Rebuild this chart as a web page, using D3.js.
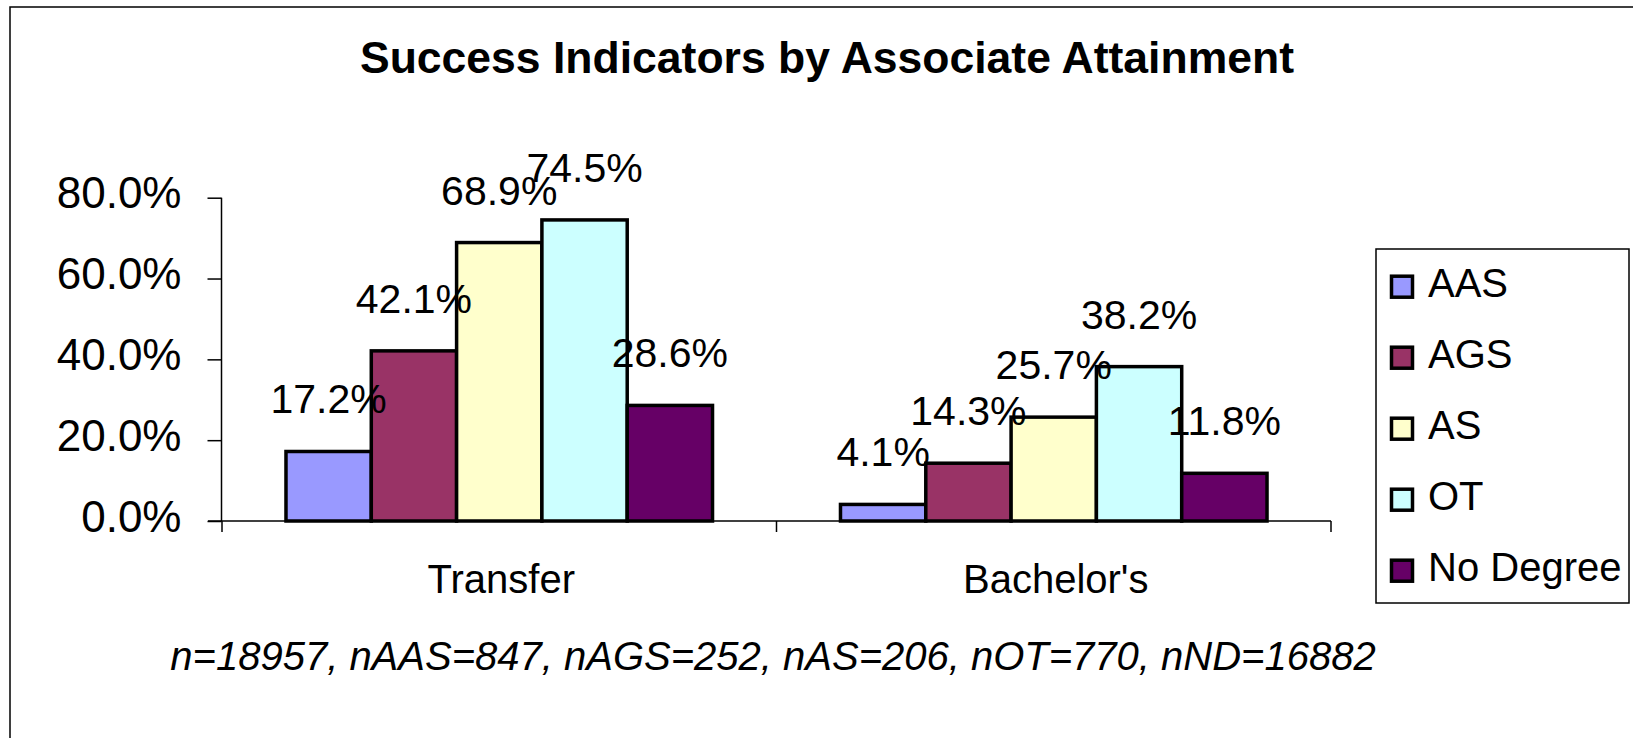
<!DOCTYPE html>
<html>
<head>
<meta charset="utf-8">
<script src="https://cdn.jsdelivr.net/npm/d3@7"></script>
<style>
  html, body { margin: 0; padding: 0; background: #fff; }
  text { font-family: "Liberation Sans", Arial, sans-serif; fill: #000; }
</style>
</head>
<body>
<div id="chart"></div>
<script>
// data
const categories = ['Transfer', "Bachelor's"];
const seriesNames = ['AAS', 'AGS', 'AS', 'OT', 'No Degree'];
const transferValues = [17.2, 42.1, 68.9, 74.5, 28.6];
const bachelorValues = [4.1, 14.3, 25.7, 38.2, 11.8];
const yTickValues = [0, 20, 40, 60, 80];
const titleText = 'Success Indicators by Associate Attainment';
const noteText = 'n=18957, nAAS=847, nAGS=252, nAS=206, nOT=770, nND=16882';

let svgWidth = 1633, svgHeight = 738,
  plotLeft = 222, plotRight = 1331,
  plotTop = 197.7, plotBottom = 521,
  tickLen = 14;

const colorScale = d3.scaleOrdinal()
  .domain(seriesNames)
  .range(['#9999FF', '#993366', '#FFFFCC', '#CCFFFF', '#660066']);

const valuesByCategory = [transferValues, bachelorValues];

const svg = d3.select('#chart')
  .append('svg')
  .attr('width', svgWidth)
  .attr('height', svgHeight);

// outer chart border (runs off right and bottom)
svg.append('rect')
  .attr('x', 10)
  .attr('y', 7)
  .attr('width', 1700)
  .attr('height', 800)
  .attr('fill', 'none')
  .attr('stroke', '#000')
  .attr('stroke-width', 1.5);

// title
svg.append('text')
  .attr('x', 827)
  .attr('y', 73)
  .attr('text-anchor', 'middle')
  .style('font-size', '44.5px')
  .style('font-weight', 'bold')
  .text(titleText);

// scales
const x = d3.scaleBand()
  .domain(categories)
  .range([plotLeft, plotRight])
  .paddingInner(0)
  .paddingOuter(0);

const xInner = d3.scaleBand()
  .domain(seriesNames)
  .range([0, x.bandwidth()])
  .paddingInner(0)
  .paddingOuter(0.75);

const y = d3.scaleLinear()
  .domain([0, 80])
  .range([plotBottom, plotTop]);

// y axis
const yAxis = svg.append('g')
  .attr('transform', `translate(${plotLeft - 0.5},0)`)
  .call(d3.axisLeft(y)
    .tickValues(yTickValues)
    .tickSize(tickLen)
    .tickPadding(26)
    .tickFormat(d => d.toFixed(1) + '%'));

yAxis.select('.domain')
  .attr('d', `M0,${plotTop}V${plotBottom}`)
  .attr('stroke', '#000')
  .attr('stroke-width', 1.5);
yAxis.selectAll('.tick line').attr('stroke', '#000').attr('stroke-width', 1.5);
yAxis.selectAll('.tick text')
  .attr('dy', '0.23em')
  .style('font-size', '44px')
  .style('font-family', '"Liberation Sans", Arial, sans-serif')
  .attr('fill', '#000');

// x axis line and category boundary ticks
svg.append('line')
  .attr('x1', plotLeft - tickLen)
  .attr('x2', plotRight)
  .attr('y1', plotBottom)
  .attr('y2', plotBottom)
  .attr('stroke', '#000')
  .attr('stroke-width', 1.5);

const boundaries = categories.map(c => x(c)).concat([x(categories[categories.length - 1]) + x.bandwidth()]);
svg.selectAll('.x-tick')
  .data(boundaries)
  .enter()
  .append('line')
  .attr('class', 'x-tick')
  .attr('x1', d => d)
  .attr('x2', d => d)
  .attr('y1', plotBottom)
  .attr('y2', plotBottom + 11)
  .attr('stroke', '#000')
  .attr('stroke-width', 1.5);

// category labels
svg.selectAll('.x-label')
  .data(categories)
  .enter()
  .append('text')
  .attr('class', 'x-label')
  .attr('x', d => x(d) + x.bandwidth() / 2 + 2)
  .attr('y', 593)
  .attr('text-anchor', 'middle')
  .style('font-size', '40px')
  .text(d => d);

// bars
const groups = svg.selectAll('.group')
  .data(categories)
  .enter()
  .append('g')
  .attr('class', 'group')
  .attr('transform', d => `translate(${x(d)},0)`);

const barData = (d, i) => seriesNames.map((s, j) => ({ series: s, value: valuesByCategory[i][j] }));

groups.selectAll('rect')
  .data(barData)
  .enter()
  .append('rect')
  .attr('x', d => xInner(d.series))
  .attr('y', d => y(d.value))
  .attr('width', xInner.bandwidth())
  .attr('height', d => y(0) - y(d.value))
  .attr('fill', d => colorScale(d.series))
  .attr('stroke', '#000')
  .attr('stroke-width', 3.5);

// value labels
groups.selectAll('.value-label')
  .data(barData)
  .enter()
  .append('text')
  .attr('class', 'value-label')
  .attr('x', d => xInner(d.series) + xInner.bandwidth() / 2)
  .attr('y', d => y(d.value) - 38)
  .attr('text-anchor', 'middle')
  .style('font-size', '41px')
  .text(d => d.value.toFixed(1) + '%');

// legend
const legend = svg.append('g');

legend.append('rect')
  .attr('x', 1376)
  .attr('y', 249)
  .attr('width', 253)
  .attr('height', 354)
  .attr('fill', '#fff')
  .attr('stroke', '#000')
  .attr('stroke-width', 1.5);

const legendItems = legend.selectAll('.legend-item')
  .data(seriesNames)
  .enter()
  .append('g')
  .attr('class', 'legend-item')
  .attr('transform', (d, i) => `translate(0, ${296.7 + 71 * i})`);

legendItems.append('rect')
  .attr('x', 1391.5)
  .attr('y', -20.5)
  .attr('width', 21)
  .attr('height', 21)
  .attr('fill', d => colorScale(d))
  .attr('stroke', '#000')
  .attr('stroke-width', 3.5);

legendItems.append('text')
  .attr('x', 1428)
  .attr('y', 0)
  .style('font-size', '40px')
  .text(d => d);

// footnote
svg.append('text')
  .attr('x', 773)
  .attr('y', 670)
  .attr('text-anchor', 'middle')
  .style('font-size', '40px')
  .style('font-style', 'italic')
  .text(noteText);
</script>
</body>
</html>
